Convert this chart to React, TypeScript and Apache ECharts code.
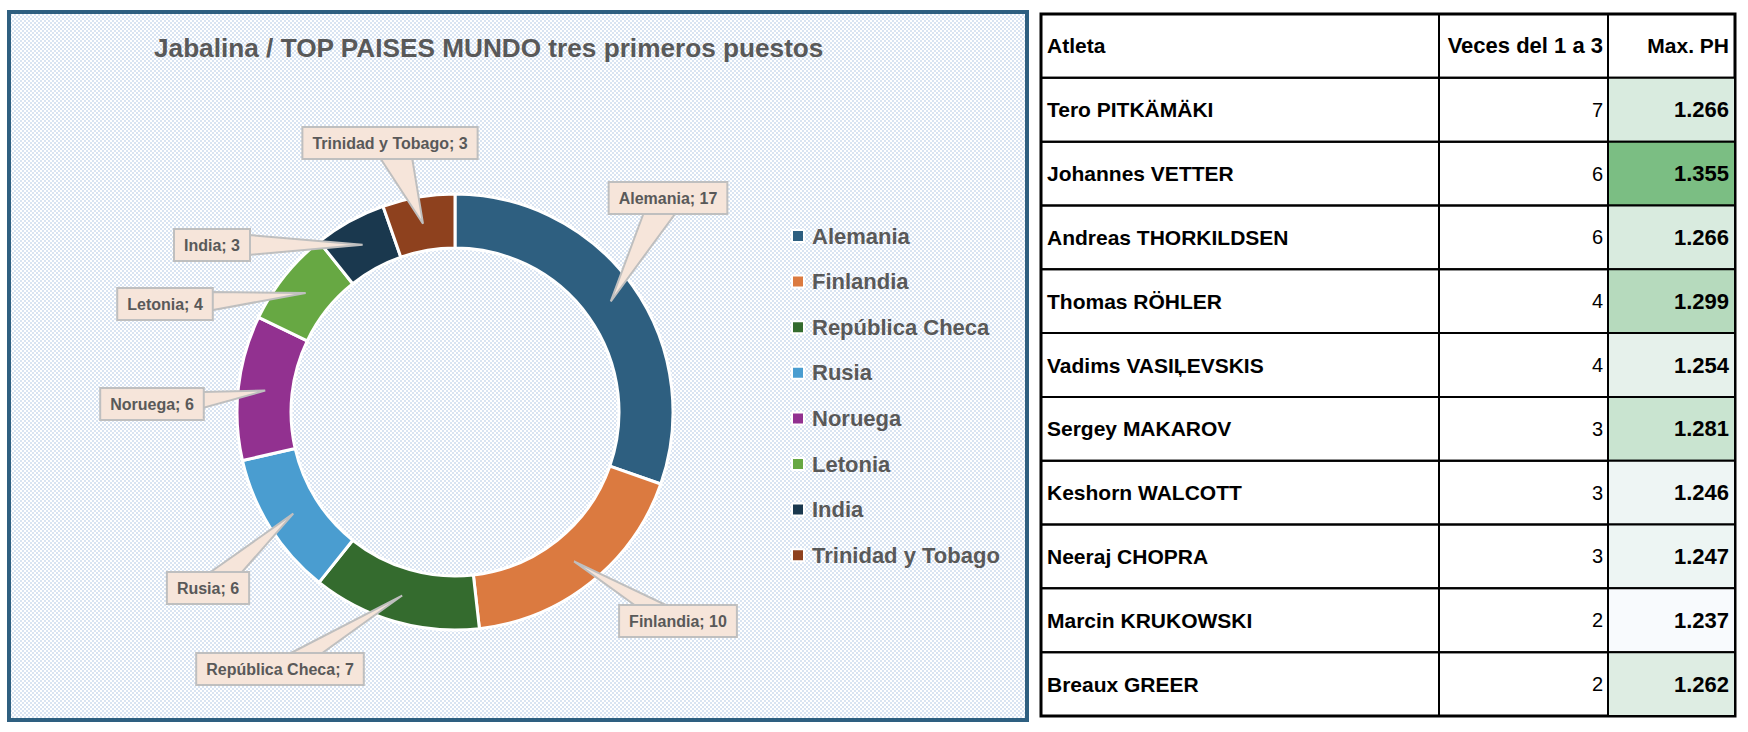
import React, { useEffect, useRef } from "react";
import * as echarts from "echarts";

const countries = ["Alemania", "Finlandia", "República Checa", "Rusia", "Noruega", "Letonia", "India", "Trinidad y Tobago"];
const podiums = [17, 10, 7, 6, 6, 4, 3, 3];
const countryColors = ["#2E5F80", "#DB7A40", "#346B2E", "#4A9DD0", "#923190", "#67A843", "#1A384E", "#8E411E"];

const tableHeader = ["Atleta", "Veces del 1 a 3", "Max. PH"];
const athletes = [
  "Tero PITKÄMÄKI",
  "Johannes VETTER",
  "Andreas THORKILDSEN",
  "Thomas RÖHLER",
  "Vadims VASIĻEVSKIS",
  "Sergey MAKAROV",
  "Keshorn WALCOTT",
  "Neeraj CHOPRA",
  "Marcin KRUKOWSKI",
  "Breaux GREER",
];
const timesTop3 = [7, 6, 6, 4, 4, 3, 3, 3, 2, 2];
const maxPH = [1.266, 1.355, 1.266, 1.299, 1.254, 1.281, 1.246, 1.247, 1.237, 1.262];

const TITLE = "Jabalina / TOP PAISES MUNDO tres primeros puestos";

// layout (pixels)
const labelCenters = [
  [668, 198],
  [678, 621],
  [280, 669],
  [208, 588],
  [152, 404],
  [165, 304],
  [212, 245],
  [390, 143],
];
const colEdges = [0, 398, 567, 694];
const FONT = "'Liberation Sans', Arial, sans-serif";
const LABEL_FONT_SIZE = 16;
const LABEL_PAD = [6, 9];
const LABEL_LINE_H = 18;

const patternSvg =
  "data:image/svg+xml;charset=utf-8," +
  encodeURIComponent(
    "<svg xmlns='http://www.w3.org/2000/svg' width='4' height='4'><rect width='4' height='4' fill='#ffffff'/><rect width='2' height='2' fill='#d9e4f2'/><rect x='2' y='2' width='2' height='2' fill='#d9e4f2'/></svg>"
  );

export default function App() {
  const ref = useRef<HTMLDivElement>(null);
  useEffect(() => {
    if (!ref.current) return;
    const chart = echarts.init(ref.current, null, { renderer: "svg" });
    const pieData = countries.map((n, i) => ({ name: n, value: podiums[i], itemStyle: { color: countryColors[i] } }));
    const rows = [0, ...maxPH].map((v, i) => [0, i, v]);
    const panel = {
      type: "rect",
      id: "panel",
      shape: { x: 9, y: 12, width: 1018, height: 708 },
      style: {
        fill: { image: patternSvg, repeat: "repeat", imageWidth: 4, imageHeight: 4 },
        stroke: "#2E5F80",
        lineWidth: 4,
      },
      z: -10,
      silent: true,
    };
    const option: any = {
      animation: false,
      title: {
        text: TITLE,
        left: 154,
        top: 35,
        padding: 0,
        textStyle: { fontFamily: FONT, fontSize: 26.2, fontWeight: "bold", color: "#595959", lineHeight: 26 },
      },
      legend: {
        orient: "vertical",
        left: 791,
        top: 225,
        padding: 0,
        itemWidth: 12,
        itemHeight: 12,
        itemGap: 23.6,
        icon: "rect",
        data: countries.map((n, i) => ({ name: n, itemStyle: { color: countryColors[i] } })),
        textStyle: { fontFamily: FONT, fontSize: 22, fontWeight: "bold", color: "#595959", lineHeight: 22, padding: [0, 0, 0, 3] },
      },
      graphic: [panel],
      grid: { left: 1041, top: 14, width: 694, height: 702, show: true, borderColor: "#000", borderWidth: 3, backgroundColor: "transparent" },
      xAxis: { type: "value", min: 0, max: colEdges[3], show: false },
      yAxis: { type: "category", data: rows.map((r) => String(r[1])), inverse: true, show: false },
      visualMap: {
        show: false,
        type: "continuous",
        seriesIndex: 2,
        dimension: 2,
        min: Math.min(...maxPH),
        max: Math.max(...maxPH),
        inRange: { color: ["#F8FAFD", "#7BBE83"] },
        outOfRange: { color: "#ffffff" },
      },
      series: [
        {
          type: "pie",
          z: 2,
          center: [455, 412],
          radius: [164, 218],
          startAngle: 90,
          clockwise: true,
          silent: true,
          label: { show: false },
          labelLine: { show: false },
          itemStyle: { borderColor: "#ffffff", borderWidth: 3 },
          data: pieData,
        },
        {
          type: "pie",
          z: 5,
          center: [455, 412],
          radius: [164, 218],
          startAngle: 90,
          clockwise: true,
          silent: true,
          itemStyle: { color: "rgba(0,0,0,0)", borderWidth: 0 },
          label: {
            show: true,
            formatter: "{b}; {c}",
            fontFamily: FONT,
            fontSize: LABEL_FONT_SIZE,
            fontWeight: "bold",
            color: "#595959",
            lineHeight: LABEL_LINE_H,
            backgroundColor: "#F6E5DA",
            borderColor: "#BFBFBF",
            borderWidth: 2,
            padding: LABEL_PAD,
          },
          labelLine: { show: false },
          labelLayout: (p: any) => {
            const c = labelCenters[p.dataIndex];
            return { x: c[0], y: c[1], align: "center", verticalAlign: "middle" };
          },
          data: countries.map((n, i) => ({ name: n, value: podiums[i] })),
        },
        {
          type: "custom",
          silent: true,
          data: rows,
          encode: { x: 0, y: 1 },
          renderItem: (params: any, api: any) => {
            const i = params.dataIndex;
            const h = api.size([0, 1])[1];
            const yc = api.coord([0, i])[1];
            const yTop = yc - h / 2;
            const xs = colEdges.map((e) => api.coord([e, i])[0]);
            const fill = i > 0 ? api.visual("color") : "none";
            const children: any[] = [];
            for (let k = 0; k < 3; k++) {
              children.push({
                type: "rect",
                shape: { x: xs[k], y: yTop, width: xs[k + 1] - xs[k], height: h },
                style: { fill: k === 2 ? fill : "none", stroke: "#000", lineWidth: 2 },
              });
            }
            const t0 = i === 0 ? tableHeader[0] : athletes[i - 1];
            const t1 = i === 0 ? tableHeader[1] : String(timesTop3[i - 1]);
            const t2 = i === 0 ? tableHeader[2] : maxPH[i - 1].toFixed(3);
            children.push({
              type: "text",
              style: { text: t0, x: xs[0] + 6, y: yc, align: "left", verticalAlign: "middle", fontFamily: FONT, fontSize: 21, fontWeight: "bold", fill: "#000" },
            });
            children.push({
              type: "text",
              style: { text: t1, x: xs[2] - 5, y: yc, align: "right", verticalAlign: "middle", fontFamily: FONT, fontSize: i === 0 ? 22 : 20, fontWeight: i === 0 ? "bold" : "normal", fill: "#000" },
            });
            children.push({
              type: "text",
              style: { text: t2, x: xs[3] - 6, y: yc, align: "right", verticalAlign: "middle", fontFamily: FONT, fontSize: i === 0 ? 21 : 22, fontWeight: "bold", fill: "#000" },
            });
            return { type: "group", children };
          },
        },
      ],
    };
    chart.setOption(option);
    try {
      const data = (chart as any).getModel().getSeriesByIndex(0).getData();
      const ctx = document.createElement("canvas").getContext("2d") as CanvasRenderingContext2D;
      ctx.font = `bold ${LABEL_FONT_SIZE}px 'Liberation Sans', Arial, sans-serif`;
      const wedges: any[] = [];
      for (let i = 0; i < countries.length; i++) {
        const L = data.getItemLayout(i);
        const mid = (L.startAngle + L.endAngle) / 2;
        const rm = (L.r + L.r0) / 2;
        const tip = [L.cx + rm * Math.cos(mid), L.cy + rm * Math.sin(mid)];
        const c = labelCenters[i];
        const tw = ctx.measureText(`${countries[i]}; ${podiums[i]}`).width;
        const halfW = tw / 2 + LABEL_PAD[1];
        const halfH = LABEL_LINE_H / 2 + LABEL_PAD[0];
        const dx = tip[0] - c[0];
        const dy = tip[1] - c[1];
        const tx = dx !== 0 ? halfW / Math.abs(dx) : Infinity;
        const ty = dy !== 0 ? halfH / Math.abs(dy) : Infinity;
        let b1: number[];
        let b2: number[];
        if (ty <= tx) {
          const ex = c[0] + dx * ty;
          const ey = c[1] + dy * ty;
          const bw = 16;
          const lo = Math.max(c[0] - halfW + 3, ex - bw);
          const hi = Math.min(c[0] + halfW - 3, ex + bw);
          b1 = [lo, ey];
          b2 = [hi, ey];
        } else {
          const ex = c[0] + dx * tx;
          const ey = c[1] + dy * tx;
          const bh = 10;
          const lo = Math.max(c[1] - halfH + 3, ey - bh);
          const hi = Math.min(c[1] + halfH - 3, ey + bh);
          b1 = [ex, lo];
          b2 = [ex, hi];
        }
        wedges.push({
          type: "polygon",
          id: "w" + i,
          shape: { points: [b1, tip, b2] },
          style: { fill: "#F6E5DA", stroke: "#BFBFBF", lineWidth: 2, lineJoin: "miter" },
          z: 3,
          silent: true,
        });
      }
      chart.setOption({ graphic: [panel, ...wedges] });
    } catch (e) {
      // ignore
    }
    return () => chart.dispose();
  }, []);
  return <div ref={ref} style={{ position: "absolute", left: 0, top: 0, width: 1748, height: 732 }} />;
}
